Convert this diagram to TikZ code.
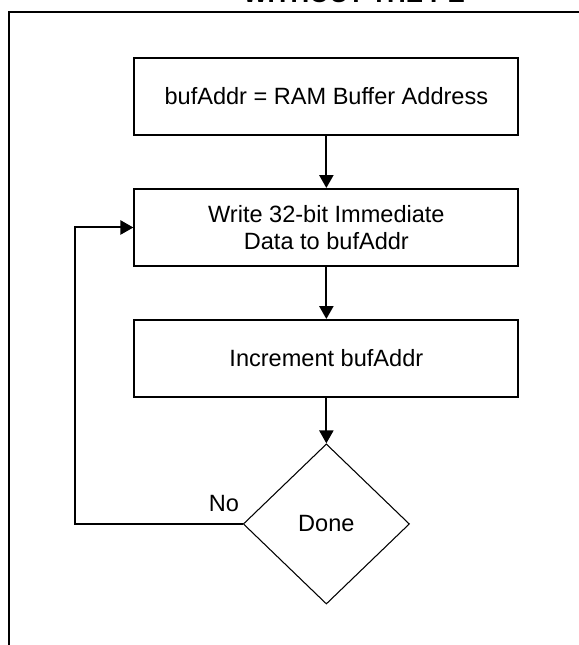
\documentclass[tikz,border=0pt]{standalone}
\usepackage{fontspec}
\setmainfont{Liberation Sans}
\usetikzlibrary{shapes.geometric,arrows.meta}
\tikzset{
	procbox/.style={draw,line width=0.85pt,minimum width=5.73cm,minimum height=1.15cm,align=center,font=\fontsize{10}{11.5}\selectfont},
	decision/.style={draw,diamond,line width=0.45pt,inner sep=0pt,minimum width=2.48cm,minimum height=2.39cm,font=\fontsize{10}{11.5}\selectfont},
	flowarrow/.style={line width=0.85pt,-{Triangle[length=5.5pt,width=6pt]}}
}
\begin{document}
\begin{tikzpicture}
		\useasboundingbox (0,0) rectangle (8.64,9.625);
		\draw[line width=0.85pt] (0.134,-1) rectangle (9.5,9.446);
		\node[anchor=base east,font=\bfseries\fontsize{11}{13}\selectfont] (title) at (7.06,9.58) {WITHOUT THE PE};
		\node[procbox] (bufset) at (4.87,8.185) {bufAddr = RAM Buffer Address};
		\node[procbox] (write) at (4.87,6.23) {Write 32-bit Immediate\\Data to bufAddr};
		\node[procbox] (incr) at (4.87,4.275) {Increment bufAddr};
		\node[decision] (done) at (4.87,1.806) {Done};
		\node[font=\fontsize{10}{11.5}\selectfont] (no) at (3.343,2.104) {No};
		\coordinate (loop) at (1.119,1.806);
		\draw[flowarrow] (bufset) -- (write);
		\draw[flowarrow] (write) -- (incr);
		\draw[flowarrow] (incr) -- (done);
		\draw[flowarrow] (done.west) -- (loop) |- (write.west);
	\end{tikzpicture}
\end{document}
